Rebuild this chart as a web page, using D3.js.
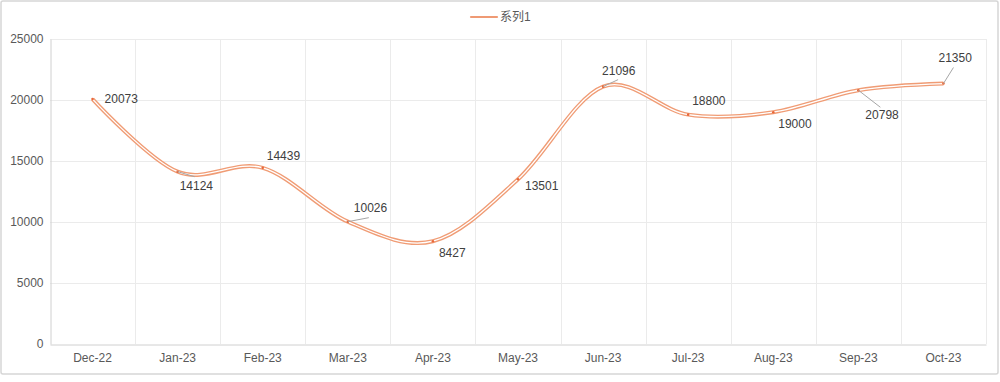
<!DOCTYPE html>
<html><head><meta charset="utf-8">
<script src="https://cdn.jsdelivr.net/npm/d3@7/dist/d3.min.js"></script>
<style>body{margin:0;background:#fff}svg{display:block}text{font-family:"Liberation Sans",Arial,"Noto Sans CJK SC",sans-serif}</style>
</head><body>
<svg id="c" width="1000" height="382"></svg>
<script>
const categories = ["Dec-22","Jan-23","Feb-23","Mar-23","Apr-23","May-23","Jun-23","Jul-23","Aug-23","Sep-23","Oct-23"];
const values = [20073,14124,14439,10026,8427,13501,21096,18800,19000,20798,21350];
const yTicks = [0,5000,10000,15000,20000,25000];
const seriesName = "系列1";
// label placement (dx: left edge offset, dy: vertical centre offset) and leader ends, relative to point
const labelOffsets = [[12,0],[2,14],[4,-12],[6,-14],[6,12],[7,7],[-1,-16],[4,-14],[5,12],[7,25],[-5,-26]];
const leaders = [null,[17,5],null,[21,-4],null,null,[15,-7],null,null,[22,17],[10,-16]];

const svg = d3.select("#c");
const m={l:50,r:14,t:39,b:38};
svg.append("rect").attr("x",1).attr("y",1).attr("width",997).attr("height",373).attr("rx",2)
  .attr("fill","#fff").attr("stroke","#d6d6d6").attr("stroke-width",1.5);

const x = d3.scaleBand().domain(categories).range([m.l,986]);
const y = d3.scaleLinear().domain([0,25000]).range([344,39]);

const g = svg.append("g");
g.selectAll(".hg").data(yTicks.filter(d=>d>0)).join("line")
  .attr("x1",m.l).attr("x2",986).attr("y1",d=>Math.round(y(d))+0.5).attr("y2",d=>Math.round(y(d))+0.5)
  .attr("stroke","#ebebeb").attr("stroke-width",1);
const bounds = categories.map(c=>x(c)).concat([986]).slice(1);
g.selectAll(".vg").data(bounds).join("line")
  .attr("x1",d=>Math.round(d)+0.5).attr("x2",d=>Math.round(d)+0.5).attr("y1",39).attr("y2",344)
  .attr("stroke","#ebebeb").attr("stroke-width",1);

const yAxis = d3.axisLeft(y).tickValues(yTicks).tickFormat(d3.format("d")).tickSize(0).tickPadding(7);
const ya = svg.append("g").attr("transform",`translate(${m.l+0.5},0)`).call(yAxis);
ya.select(".domain").attr("stroke","#d0d0d0");
ya.selectAll("text").attr("fill","#595959").attr("font-size",12);

const xAxis = d3.axisBottom(x).tickSize(0).tickPadding(9);
const xa = svg.append("g").attr("transform",`translate(0,344.5)`).call(xAxis);
xa.select(".domain").attr("stroke","#d0d0d0");
xa.selectAll("text").attr("fill","#595959").attr("font-size",12);

const pts = values.map((v,i)=>[x(categories[i])+x.bandwidth()/2, y(v)]);
const line = d3.line().curve(d3.curveCardinal.tension(0));
svg.append("path").attr("d",line(pts)).attr("fill","none").attr("stroke","#f09c75").attr("stroke-width",4).attr("stroke-linejoin","round");
svg.append("path").attr("d",line(pts)).attr("fill","none").attr("stroke","#fff").attr("stroke-width",1.3);
svg.selectAll(".pt").data(pts).join("circle").attr("cx",d=>d[0]).attr("cy",d=>d[1]).attr("r",1.3).attr("fill","#e8683a");

svg.selectAll(".ld").data(pts.map((p,i)=>({p,l:leaders[i]})).filter(d=>d.l)).join("line")
  .attr("x1",d=>d.p[0]).attr("y1",d=>d.p[1]).attr("x2",d=>d.p[0]+d.l[0]).attr("y2",d=>d.p[1]+d.l[1])
  .attr("stroke","#a6a6a6").attr("stroke-width",1);

svg.selectAll(".lb").data(values).join("text")
  .attr("x",(d,i)=>pts[i][0]+labelOffsets[i][0])
  .attr("y",(d,i)=>pts[i][1]+labelOffsets[i][1])
  .attr("dy","0.35em").attr("font-size",12).attr("fill","#404040").text(d=>d);

svg.append("line").attr("x1",471).attr("x2",497).attr("y1",17).attr("y2",17).attr("stroke","#ef9a74").attr("stroke-width",2.2).attr("stroke-linecap","round");
svg.append("text").attr("x",500).attr("y",17).attr("dy","0.35em").attr("font-size",12).attr("fill","#595959").text(seriesName);
</script>
</body></html>
